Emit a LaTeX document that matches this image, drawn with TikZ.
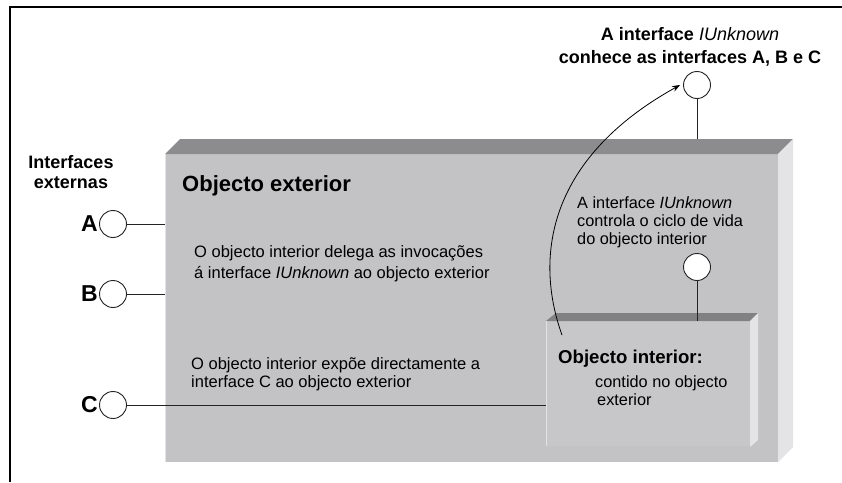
\documentclass[tikz,border=0pt]{standalone}
\usepackage{fontspec}
\setmainfont{Liberation Sans}
\usetikzlibrary{positioning, arrows.meta}
\definecolor{faceg}{RGB}{195,195,197}
\definecolor{innerg}{RGB}{199,199,201}
\definecolor{topg}{RGB}{140,140,142}
\definecolor{sideg}{RGB}{228,228,230}
\definecolor{edgeg}{RGB}{226,226,228}
\definecolor{wireg}{RGB}{35,35,35}

\begin{document}
\begin{tikzpicture}[
  x=1pt, y=-1pt,
  txt/.style={font=\fontsize{16.5}{21}\selectfont, inner sep=0pt, align=left, anchor=west},
  boldtxt/.style={font=\fontsize{18}{20}\selectfont\bfseries, inner sep=0pt, align=center},
  letter/.style={font=\fontsize{23}{23}\selectfont\bfseries, inner sep=0pt},
  iface/.style={circle, draw=wireg, fill=white, line width=0.9pt, minimum size=27pt, inner sep=0pt},
  face/.style={inner sep=0pt, outer sep=0pt},
  wire/.style={draw=wireg, line width=0.9pt},
  arr/.style={-{Stealth[length=8pt, width=6pt]}, line width=0.8pt},
]
\useasboundingbox (0,0) rectangle (842,482);
\fill[white] (0,0) rectangle (842,482);
\draw[line width=2.5pt] (10,482) -- (10,7) -- (842,7);

% --- outer object: front face, top and right bevels ---
\node[face, fill=faceg, minimum width=613pt, minimum height=308pt] (outer) at (471.5,308) {};
\fill[topg] (165,154) -- (180,139) -- (793,139) -- (778,154) -- cycle;
\fill[sideg] (778,154) -- (793,139) -- (793,447) -- (778,462) -- cycle;
\draw[edgeg, line width=1pt] (165.5,462) -- (165.5,154);
\coordinate (obev) at (180,139);

% --- inner object ---
\node[face, fill=innerg, minimum width=204pt, minimum height=125pt] (inner) at (648,383.5) {};
\fill[topg!110] (546,321) -- (556,313) -- (758,313) -- (750,321) -- cycle;
\fill[sideg] (750,321) -- (758,313) -- (758,440) -- (750,447) -- cycle;
\draw[edgeg, line width=1pt] (546.5,446) -- (546.5,321);

% --- titles and texts ---
\node[boldtxt] (ext) at (71,172) {Interfaces\\externas};
\node[boldtxt, font=\fontsize{18}{23}\selectfont\bfseries] (know) at (690,47)
  {A interface {\mdseries\itshape IUnknown}\\conhece as interfaces A, B e C};
\node[font=\fontsize{22}{22}\selectfont\bfseries, inner sep=0pt, anchor=base west] (otitle) at (182,191) {Objecto exterior};
\node[font=\fontsize{18.6}{20}\selectfont\bfseries, inner sep=0pt, anchor=base west] (ititle) at (558,363) {Objecto interior:};
\node[txt] (deltxt) at (194,263.5) {O objecto interior delega as invocações\\á interface \textit{IUnknown} ao objecto exterior};
\node[txt, font=\fontsize{16.3}{18}\selectfont] (ctltxt) at (577,222) {A interface \textit{IUnknown}\\controla o ciclo de vida\\do objecto interior};
\node[txt, font=\fontsize{16.5}{18}\selectfont] (exptxt) at (191,374) {O objecto interior expõe directamente a\\interface C ao objecto exterior};
\node[txt, font=\fontsize{16.3}{18}\selectfont] (inctxt) at (595,391) {contido no objecto\\\hspace*{2pt}exterior};

% --- interfaces A, B, C ---
\node[iface] (ia) at (113,224) {};
\node[iface] (ib) at (113,294) {};
\node[iface] (ic) at (113,405) {};
\foreach \n/\t in {ia/A, ib/B, ic/C}
  \node[letter, left=1pt of \n] (l\n) {\t};
\draw[wire] (ia) -- (ia -| outer.west);
\draw[wire] (ib) -- (ib -| outer.west);
\draw[wire] (ic) -- (ic -| inner.west);

% --- IUnknown interfaces ---
\node[iface] (iu) at (697,85) {};
\node[iface] (iuin) at (697,267) {};
\draw[wire] (iu) -- (iu |- obev);
\draw[wire] (iuin) -- (iuin |- inner.north);

% --- delegation arrow ---
\coordinate (deleg) at (562,335);
\draw[arr] (deleg) .. controls (535,260) and (545,160) .. ([xshift=-3pt]iu.west);

\end{tikzpicture}
\end{document}
